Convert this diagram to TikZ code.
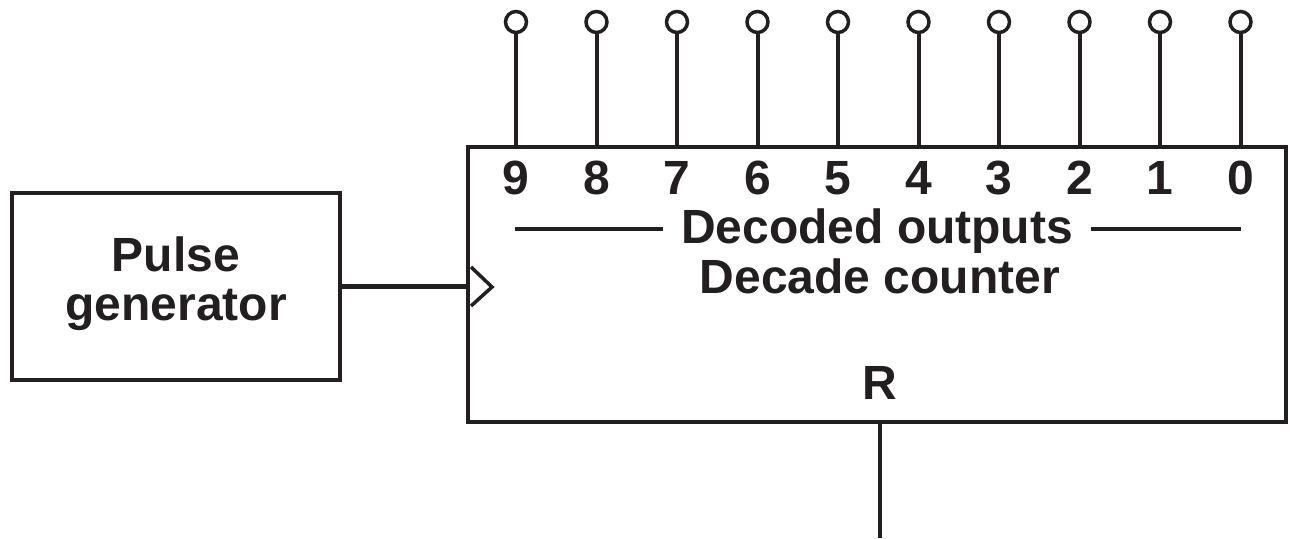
\documentclass[tikz,border=0pt]{standalone}
\usepackage{fontspec}
\setmainfont{Liberation Sans}
\definecolor{ink}{RGB}{35,31,32}
\begin{document}
\begin{tikzpicture}[x=1pt,y=-1pt,
  line width=4.5pt, color=ink,
  txt/.style={font=\fontsize{48}{54}\selectfont\bfseries, inner sep=0pt, text=ink},
  box/.style={draw=ink, line width=4.5pt, inner sep=0pt}]
\useasboundingbox (0,0) rectangle (1290,538);
% blocks
\node[box, minimum width=328pt, minimum height=187pt] (pulse) at (176,286.5) {};
\node[txt, anchor=base] (pulsetxt) at (176,271) {Pulse};
\node[txt, anchor=base] (gentxt) at (176,320) {generator};
\node[box, minimum width=818pt, minimum height=275pt] (main) at (877,284.5) {};
% connector and clock
\coordinate (clkin) at (main.west |- pulse.east);
\draw (pulse.east) -- (clkin);
\coordinate (clka) at (471,267);
\coordinate (clkb) at (492,287);
\coordinate (clkc) at (471,306);
\draw[line width=3.5pt, line join=miter] (clka) -- (clkb) -- (clkc);
% pins
\foreach \i/\d in {0/9,1/8,2/7,3/6,4/5,5/4,6/3,7/2,8/1,9/0}{
  \pgfmathsetmacro{\px}{516+80.5*\i}
  \node[draw=ink, circle, line width=3.5pt, minimum size=21pt, inner sep=0pt] (pin\d) at (\px,22) {};
  \coordinate (pinb\d) at (\px,147);
  \draw[line width=4pt] (pin\d.south) -- (pinb\d);
  \node[txt, anchor=base] (dig\d) at (\px,194) {\d};
}
% labels
\node[txt, anchor=base] (dec) at (877,243) {Decoded outputs};
\coordinate (decl) at (515,229);
\coordinate (decr) at (1241,229);
\coordinate (decla) at ([xshift=-16pt]dec.west |- decl);
\coordinate (decra) at ([xshift=16pt]dec.east |- decr);
\draw (decl) -- (decla);
\draw (decra) -- (decr);
\node[txt, anchor=base] (cnt) at (880,293) {Decade counter};
\node[txt, anchor=base] (rlab) at (880,399) {R};
\coordinate (rin) at (880,422);
\coordinate (rend) at (880,538);
\draw (rin) -- (rend);
\end{tikzpicture}
\end{document}
